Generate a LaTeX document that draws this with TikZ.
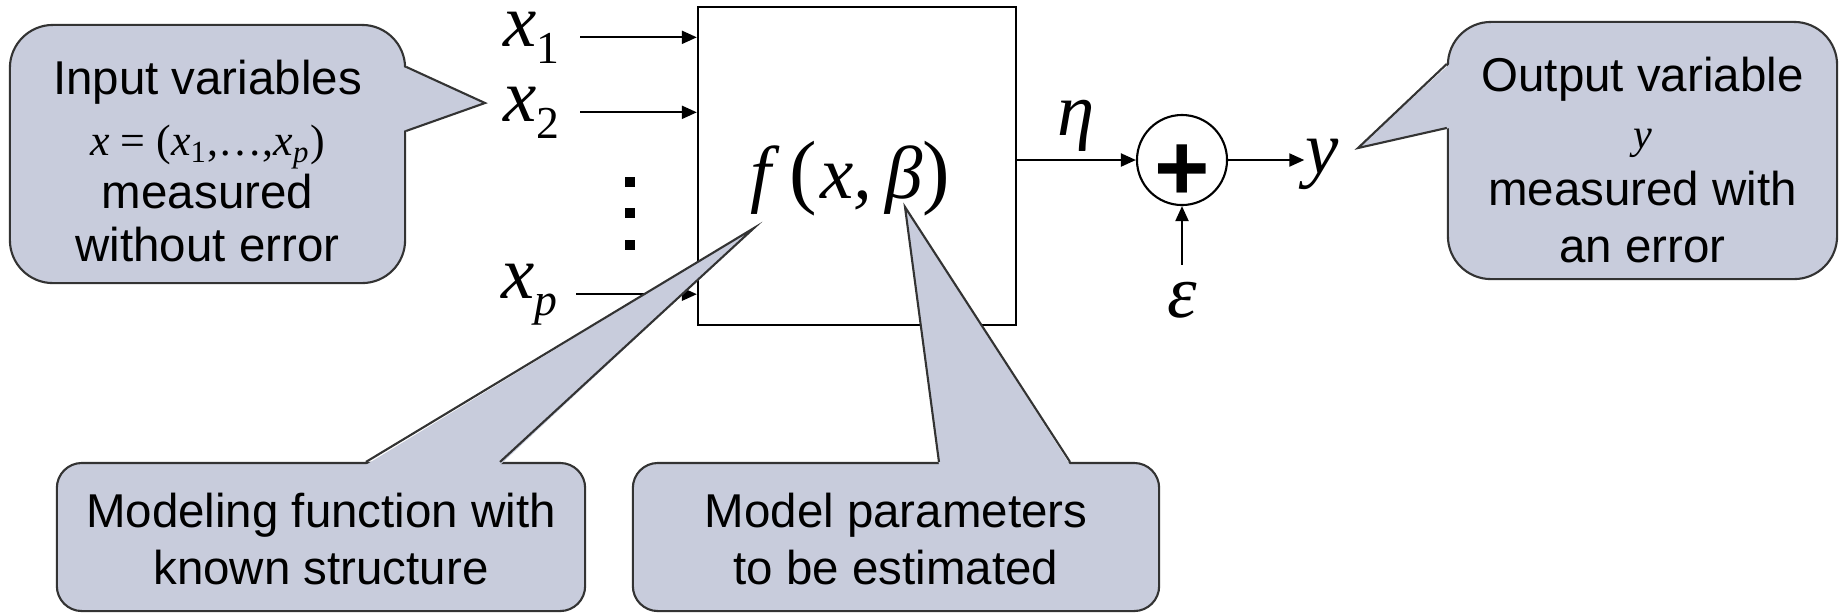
\documentclass[tikz,border=0pt]{standalone}
\usepackage{fontspec}
\setmainfont{Liberation Sans}
\newfontfamily\timesfont{Liberation Serif}
\usetikzlibrary{positioning,arrows.meta}

\definecolor{bubblegray}{RGB}{200,204,220}
\newcommand\bigparen[1]{{\fontsize{23.5}{25}\selectfont\upshape #1}}
\newcommand\lowsub[1]{\raisebox{-0.17cm}{\fontsize{13}{15}\selectfont #1}}

\begin{document}
\begin{tikzpicture}[
    x=0.01cm, y=-0.01cm,
    line width=0.6pt,
    callout/.style={
        rectangle, draw=black!80, fill=bubblegray,
        align=center, inner sep=0pt
    },
    tail/.style={fill=bubblegray},
    tailline/.style={draw=black!80},
    mathlbl/.style={
        inner sep=0pt,
        font=\fontsize{21.3}{25}\selectfont\timesfont\itshape
    },
    arr/.style={-{Triangle[length=0.15cm,width=0.13cm]}},
    vdot/.style={rectangle, fill=black, minimum size=0.1cm, inner sep=0pt}
]
\useasboundingbox (0,0) rectangle (1839,614);

%% Model block and its inputs
\node[draw, minimum width=3.18cm, minimum height=3.18cm, inner sep=0pt]
    (fbox) at (857,166) {};
\node[mathlbl, anchor=base] (fx) at (850,198)
    {f \bigparen{(}\kern1pt x,\,β\bigparen{)}};

\node[mathlbl, anchor=base west] (x1) at (502,46) {x\lowsub{\upshape 1}};
\node[mathlbl, anchor=base west] (x2) at (502,121) {x\lowsub{\upshape 2}};
\node[mathlbl, anchor=base west] (xp) at (500,298) {x\lowsub{p}};

\node[vdot] (dot1) at (630,182) {};
\node[vdot] (dot2) at (630,213) {};
\node[vdot] (dot3) at (630,245) {};

\draw[arr, shorten <=0.2cm] (x1) -- (x1 -| fbox.west);
\draw[arr, shorten <=0.2cm] (x2) -- (x2 -| fbox.west);
\draw[arr, shorten <=0.18cm] (xp) -- (xp -| fbox.west);

%% Summing junction and output
\node[draw, circle, minimum size=0.9cm, inner sep=0pt] (sum) at (1182,160) {};
\node[font=\fontsize{27}{27}\selectfont\bfseries, inner sep=0pt] (plus) at (1182,173) {+};
\node[mathlbl, anchor=base] (ylbl) at (1322,173) {y};
\node[mathlbl, anchor=base] (eps) at (1182,317) {ε};

\draw[arr] (fbox.east |- sum) -- node[mathlbl, above=0.07cm] (eta) {η} (sum);
\draw[arr] (sum) -- (sum -| ylbl.west);
\draw[arr, shorten <=0.16cm] (eps) -- (sum);

%% Callouts
\node[callout, minimum width=3.95cm, minimum height=2.58cm, rounded corners=0.43cm,
      font=\fontsize{13.5}{15.1}\selectfont] (inbub) at (207.5,154)
    {\rule{0pt}{0.49cm}Input variables\\[0.08cm]
     {\timesfont\fontsize{12.5}{15}\selectfont\itshape x \upshape= (\itshape x\textsubscript{\upshape 1}\upshape,\ldots,\itshape x\textsubscript{p}\upshape)}\\
     measured\\
     without error};
\coordinate (intip) at (485,103);
\fill[tail] ([xshift=-0.03cm,yshift=-0.43cm]inbub.north east) -- (intip)
    -- ([xshift=-0.03cm,yshift=-1.07cm]inbub.north east) -- cycle;
\draw[tailline] ([yshift=-0.43cm]inbub.north east) -- (intip)
    -- ([yshift=-1.07cm]inbub.north east);

\node[callout, minimum width=3.89cm, minimum height=2.57cm, rounded corners=0.43cm,
      font=\fontsize{13.5}{16.2}\selectfont] (outbub) at (1642.5,150.5)
    {\rule{0pt}{0.54cm}Output variable\\
     {\timesfont\fontsize{12}{14}\selectfont\itshape y}\\
     measured with\\
     an error};
\coordinate (outtip) at (1358,148);
\fill[tail] ([xshift=0.03cm,yshift=-0.43cm]outbub.north west) -- (outtip)
    -- ([xshift=0.03cm,yshift=-1.07cm]outbub.north west) -- cycle;
\draw[tailline] ([yshift=-0.43cm]outbub.north west) -- (outtip)
    -- ([yshift=-1.07cm]outbub.north west);

\node[callout, minimum width=5.28cm, minimum height=1.48cm, rounded corners=0.25cm,
      font=\fontsize{13.5}{16.2}\selectfont] (modbub) at (321,537)
    {\rule{0pt}{0.39cm}Modeling function with\\
     known structure};
\coordinate (modtip) at (754,228);
\fill[tail] ([xshift=3.1cm,yshift=-0.03cm]modbub.north west) -- (modtip)
    -- ([xshift=4.44cm,yshift=-0.03cm]modbub.north west) -- cycle;
\draw[tailline] ([xshift=3.1cm]modbub.north west) -- (modtip)
    -- ([xshift=4.44cm]modbub.north west);

\node[callout, minimum width=5.26cm, minimum height=1.48cm, rounded corners=0.25cm,
      font=\fontsize{13.5}{16.2}\selectfont] (parbub) at (896,537)
    {\rule{0pt}{0.39cm}Model parameters\\
     to be estimated};
\coordinate (partip) at (905,207);
\fill[tail] ([xshift=3.07cm,yshift=-0.03cm]parbub.north west) -- (partip)
    -- ([xshift=4.38cm,yshift=-0.03cm]parbub.north west) -- cycle;
\draw[tailline] ([xshift=3.07cm]parbub.north west) -- (partip)
    -- ([xshift=4.38cm]parbub.north west);

\end{tikzpicture}
\end{document}
